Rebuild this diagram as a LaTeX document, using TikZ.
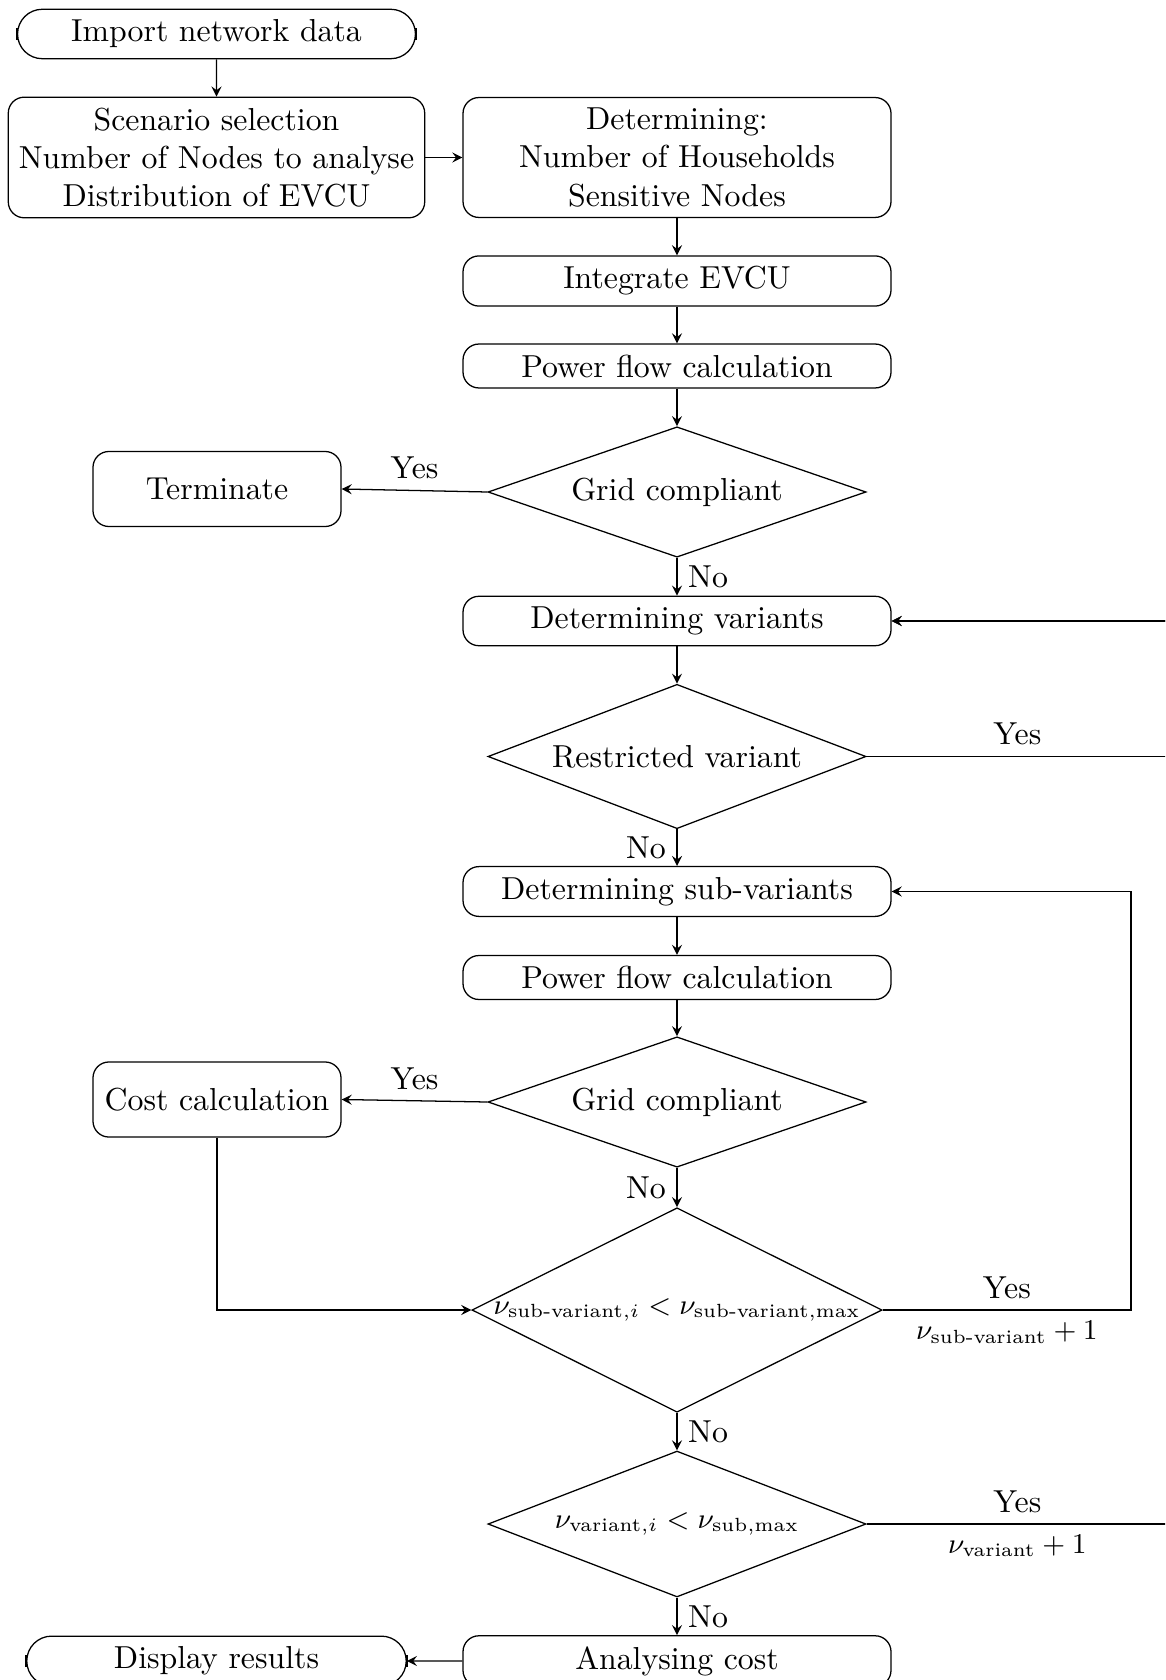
\documentclass[tikz,border=0pt]{standalone}
\usepackage{amsmath}
\usetikzlibrary{shapes.geometric,shapes.misc}
\begin{document}
\begin{tikzpicture}[x=0.3145pt,y=-0.3145pt,
  >=stealth, line width=0.4pt,
  proc/.style={draw, rounded corners=5pt, align=center, inner sep=3.33pt},
  wideproc/.style={proc, minimum width=134.6pt},
  sideproc/.style={proc, minimum width=78pt, minimum height=23.6pt},
  terminal/.style={draw, rounded rectangle, inner sep=3.33pt},
  decide/.style={draw, diamond, inner sep=0pt, minimum width=118.9pt},
  tick/.style={line width=0.4pt},
  flow/.style={->},
  counter/.style={font=\small}]
\useasboundingbox (0,0) rectangle (1165,1680);
\clip (0,0) rectangle (1165,1680);

% rim coordinates for the loop-back connectors
\coordinate (rimA) at (1168,0);
\coordinate (rimB) at (1131,0);

% main column
\node[terminal, minimum width=131.8pt] (start) at (216.5,34) {Import network data};
\node[proc] (scen) at (216.5,157.5) {Scenario selection\\Number of Nodes to analyse\\Distribution of EVCU};
\node[wideproc] (det) at (677,157.5) {Determining:\\Number of Households\\Sensitive Nodes};
\node[wideproc] (integ) at (677,281) {Integrate EVCU};
\node[wideproc] (pfa) at (677,366) {Power flow calculation};
\node[decide, minimum height=41pt] (gca) at (677,492) {\makebox[0pt]{Grid compliant}};
\node[sideproc] (term) at (217,489) {Terminate};
\node[wideproc] (detvar) at (677,621) {Determining variants};
\node[decide, minimum height=45.4pt] (rv) at (677,756.5) {\makebox[0pt]{Restricted variant}};
\node[wideproc] (detsub) at (677,891.5) {Determining sub-variants};
\node[wideproc] (pfb) at (677,977.5) {Power flow calculation};
\node[decide, minimum height=41pt] (gcb) at (677,1102) {\makebox[0pt]{Grid compliant}};
\node[sideproc] (cost) at (217,1099.5) {Cost calculation};
\node[decide, minimum width=129pt, minimum height=64.3pt, counter] (dsub) at (677,1310)
  {\makebox[0pt]{$\nu_{\text{sub-variant},i} < \nu_{\text{sub-variant},\text{max}}$}};
\node[decide, minimum height=45.9pt, counter] (dvar) at (677,1524)
  {\makebox[0pt]{$\nu_{\text{variant},i} < \nu_{\text{sub},\text{max}}$}};
\node[wideproc] (anal) at (677,1661) {Analysing cost};
\node[terminal, minimum width=126pt] (disp) at (216.5,1661) {Display results};

% small end marks of the terminals
\draw[tick] ([yshift=-1.9pt]start.west) -- ([yshift=1.9pt]start.west);
\draw[tick] ([yshift=-1.9pt]start.east) -- ([yshift=1.9pt]start.east);
\draw[tick] ([yshift=-1.9pt]disp.west) -- ([yshift=1.9pt]disp.west);
\draw[tick] ([yshift=-1.9pt]disp.east) -- ([yshift=1.9pt]disp.east);

% connectors
\draw[flow] (start) -- (scen);
\draw[flow] (scen) -- (det);
\draw[flow] (det) -- (integ);
\draw[flow] (integ) -- (pfa);
\draw[flow] (pfa) -- (gca);
\draw[flow] (gca.west) -- node[above] {Yes} (term.east);
\draw[flow] (gca) -- node[right] {No} (detvar);
\draw[flow] (detvar) -- (rv);
\draw[flow] (rv.east) -- node[above] {Yes} (rv.east -| rimA) |- (detvar.east);
\draw[flow] (rv) -- node[left] {No} (detsub);
\draw[flow] (detsub) -- (pfb);
\draw[flow] (pfb) -- (gcb);
\draw[flow] (gcb.west) -- node[above] {Yes} (cost.east);
\draw[flow] (gcb) -- node[left] {No} (dsub);
\draw[flow] (cost.south) |- (dsub.west);
\draw[flow] (dsub.east) -- node[above] {Yes} node[below, counter] {$\nu_{\text{sub-variant}}+1$}
  (dsub.east -| rimB) |- (detsub.east);
\draw[flow] (dsub) -- node[right] {No} (dvar);
\draw[flow] (dvar.east) -- node[above] {Yes} node[below, counter] {$\nu_{\text{variant}}+1$}
  (dvar.east -| rimA) |- (detvar.east);
\draw[flow] (dvar) -- node[right] {No} (anal);
\draw[flow] (anal) -- (disp);
\end{tikzpicture}
\end{document}
